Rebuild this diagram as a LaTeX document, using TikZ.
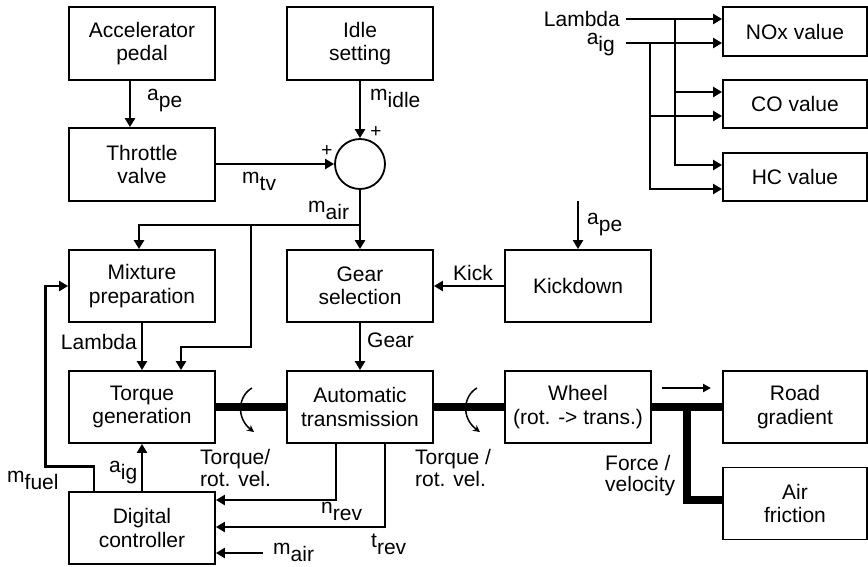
\documentclass[tikz,border=0pt]{standalone}
\usepackage{fontspec}
\setmainfont{Liberation Sans}
\usetikzlibrary{arrows.meta,calc}
\newcommand\sbs[1]{\raisebox{-0.38em}{#1}}
\begin{document}
\begin{tikzpicture}[x=1pt,y=-1pt,
 every node/.style={font=\fontsize{21}{23.5}\selectfont},
 box/.style={draw, line width=1.8pt, minimum width=146pt, minimum height=73pt, align=center, inner sep=0pt},
 sbox/.style={box, minimum width=144pt, minimum height=48pt},
 sig/.style={line width=2.8pt, -{Triangle[length=9pt,width=10pt]}},
 shaft/.style={line width=8.5pt},
 rotarr/.style={line width=1.5pt, -{Stealth[length=7pt,width=7pt]}},
 lbl/.style={inner sep=0pt},
 plus/.style={inner sep=0pt, font=\fontsize{19}{19}\selectfont},
 ]
\useasboundingbox (0,0) rectangle (868,566);

% boxes
\node[box] (acc) at (142,43.5) {Accelerator\\pedal};
\node[box] (idle) at (360,43.5) {Idle\\setting};
\node[box] (thr) at (142,164.5) {Throttle\\valve};
\node[draw, circle, line width=1.8pt, minimum size=50pt, inner sep=0pt] (sum) at (360,164) {};
\node[box, minimum height=72pt] (mix) at (142,286) {Mixture\\preparation};
\node[box, minimum height=72pt] (gear) at (360,286) {Gear\\selection};
\node[box, minimum height=72pt] (kick) at (578,286) {Kickdown};
\node[box, minimum height=72pt] (torq) at (142,407) {Torque\\generation};
\node[box, minimum height=72pt] (auto) at (360,407) {Automatic\\transmission};
\node[box, minimum height=72pt] (wheel) at (578,407) {Wheel\\(rot. -> trans.)};
\node[box, minimum width=144pt, minimum height=72pt] (road) at (795,407) {Road\\gradient};
\node[box, minimum width=144pt, minimum height=72pt] (air) at (795,503.5) {Air\\friction};
\node[box, minimum height=72pt] (dc) at (142,528) {Digital\\controller};
\node[sbox, minimum height=49pt] (nox) at (795,31.5) {NOx value};
\node[sbox] (co) at (795,104) {CO value};
\node[sbox] (hc) at (795,177) {HC value};

% top left signals
\draw[sig] ([xshift=-12pt]acc.south) -- ([xshift=-12pt]thr.north);
\node[lbl, anchor=base west] at (147,100) {a\sbs{pe}};
\draw[sig] (idle.south) -- (sum.north);
\node[lbl, anchor=base west] at (370,100) {m\sbs{idle}};
\draw[sig] (thr.east |- sum.west) -- (sum.west);
\node[lbl, anchor=base west] at (242,183) {m\sbs{tv}};
\node[plus] at (376,132) {+};
\node[plus] at (327,151) {+};
\draw[sig] (sum.south) -- (gear.north);
\node[lbl, anchor=base west] at (308,212) {m\sbs{air}};
\coordinate (j1) at (360,225);
\coordinate (j2) at (251,225);
\draw[sig] (j1) -| ([xshift=-3pt]mix.north);
\draw[sig] (j2) -- (251,347) -| ([xshift=39pt]torq.north);
\draw[sig] (mix.south) -- (torq.north);
\node[lbl, anchor=base east] at (137,349) {Lambda};
\draw[sig] (gear.south) -- (auto.north);
\node[lbl, anchor=base west] at (367,347) {Gear};
\draw[sig] (kick.west) -- (gear.east);
\node[lbl, anchor=base] at (473,280) {Kick};
\coordinate (apeK) at (578,201);
\draw[sig] (apeK) -- (kick.north);
\node[lbl, anchor=base west] at (587,224) {a\sbs{pe}};

% emissions
\coordinate (lamS) at (626,19);
\coordinate (aigS) at (626,43);
\coordinate (lamJ) at (675,19);
\coordinate (aigJ) at (650,43);
\node[lbl, anchor=base east] at (620,26) {Lambda};
\node[lbl, anchor=base east] at (615,44) {a\sbs{ig}};
\draw[sig] (lamS) -- ([yshift=12.5pt]nox.west);
\draw[sig] (aigS) -- ([yshift=-11.5pt]nox.west);
\draw[sig] (lamJ) |- ([yshift=12pt]co.west);
\draw[sig] (lamJ) |- ([yshift=12pt]hc.west);
\draw[sig] (aigJ) |- ([yshift=-12pt]co.west);
\draw[sig] (aigJ) |- ([yshift=-12pt]hc.west);

% shafts
\draw[shaft] (torq.east) -- (auto.west);
\draw[shaft] (auto.east) -- (wheel.west);
\draw[shaft] (wheel.east) -- (road.west);
\coordinate (fj) at (687,407);
\draw[shaft] (fj) |- ([yshift=3.5pt]air.west);
\draw[rotarr] (252,388) .. controls (238,396) and (236,418) .. (254,432);
\draw[rotarr] (477,388) .. controls (463,396) and (461,418) .. (480,432);
\coordinate (va) at (662,388);
\coordinate (vb) at (711,388);
\draw[line width=2.4pt, -{Triangle[length=8pt,width=8pt]}] (va) -- (vb);
\node[lbl, anchor=base west] at (200,464) {Torque/};
\node[lbl, anchor=base west] at (200,486) {rot. vel.};
\node[lbl, anchor=base west] at (415,464) {Torque /};
\node[lbl, anchor=base west] at (415,486) {rot. vel.};
\node[lbl, anchor=base west] at (605,470) {Force /};
\node[lbl, anchor=base west] at (605,491) {velocity};

% controller
\draw[sig] (dc.north) -- (torq.south);
\node[lbl, anchor=base west] at (109,472) {a\sbs{ig}};
\draw[sig] ([xshift=-48pt]dc.north) -- ++(0,-25) -| ([xshift=-23pt]mix.west) -- (mix.west);
\node[lbl, anchor=base west] at (7,482) {m\sbs{fuel}};
\draw[sig] ([xshift=-24pt]auto.south) |- ([yshift=28pt]dc.east);
\node[lbl, anchor=base west] at (321,513) {n\sbs{rev}};
\draw[sig] ([xshift=25pt]auto.south) |- ([yshift=1pt]dc.east);
\node[lbl, anchor=base west] at (371,547) {t\sbs{rev}};
\coordinate (mairS) at (263,553);
\draw[sig] (mairS) -- (dc.east |- mairS);
\node[lbl, anchor=base west] at (273,554) {m\sbs{air}};
\end{tikzpicture}
\end{document}
